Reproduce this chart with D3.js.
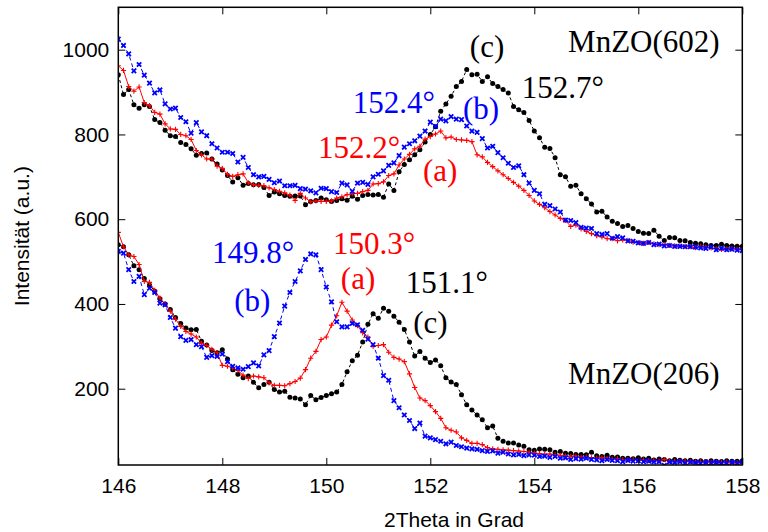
<!DOCTYPE html>
<html>
<head>
<meta charset="utf-8">
<script src="https://cdn.jsdelivr.net/npm/d3@7"></script>
<style>
  body { margin: 0; background: #fff; }
  svg text { fill: #000; }
</style>
</head>
<body>
<svg id="chart" width="768" height="532"></svg>
<script>
// Scan grid: 2Theta from 146° to 158° in 0.1° steps (121 points per scan)
const thetaStart = 146;
const thetaStep = 0.1;

const xTicks = [146, 148, 150, 152, 154, 156, 158];
const yTicks = [200, 400, 600, 800, 1000];

// MnZO(602) reflection — samples (a), (b), (c)
const mnzo602_a = [
  962, 951, 913, 902, 912, 875, 868, 852, 848, 825,
  813, 812, 800, 797, 788, 762, 752, 742, 742, 725,
  720, 706, 701, 705, 707, 686, 681, 680, 679, 674,
  670, 666, 662, 657, 644, 661, 650, 641, 643, 642,
  642, 643, 650, 653, 658, 660, 661, 665, 668, 683,
  684, 688, 703, 707, 728, 742, 753, 766, 772, 789,
  795, 801, 808, 792, 794, 788, 787, 786, 783, 752,
  747, 734, 724, 714, 705, 696, 687, 678, 668, 656,
  643, 635, 627, 618, 610, 602, 597, 583, 586, 577,
  571, 566, 561, 558, 554, 554, 549, 551, 550, 546,
  545, 543, 545, 542, 540, 540, 538, 537, 537, 536,
  535, 533, 536, 534, 532, 530, 529, 530, 530, 529,
  528
];
const mnzo602_b = [
  1025, 1010, 990, 950, 965, 940, 921, 898, 905, 872,
  860, 862, 840, 830, 803, 828, 806, 797, 778, 768,
  758, 758, 755, 735, 746, 722, 705, 700, 701, 694,
  686, 690, 679, 679, 680, 672, 671, 667, 662, 673,
  672, 665, 663, 685, 681, 666, 685, 687, 682, 700,
  706, 714, 727, 733, 750, 770, 778, 785, 796, 808,
  829, 819, 836, 832, 842, 836, 835, 820, 808, 805,
  790, 768, 772, 757, 745, 732, 722, 726, 705, 685,
  668, 660, 635, 632, 624, 617, 598, 597, 592, 581,
  579, 578, 566, 564, 566, 555, 559, 556, 549, 548,
  544, 543, 545, 540, 541, 537, 538, 536, 536, 535,
  535, 534, 532, 531, 534, 528, 531, 528, 529, 527,
  526
];
const mnzo602_c = [
  941, 894, 906, 870, 862, 870, 866, 835, 828, 810,
  797, 795, 781, 776, 766, 751, 755, 756, 742, 730,
  716, 703, 688, 698, 680, 684, 681, 682, 675, 656,
  664, 660, 656, 654, 655, 655, 634, 642, 644, 650,
  646, 642, 644, 648, 645, 654, 647, 656, 658, 657,
  658, 652, 683, 668, 712, 729, 740, 752, 764, 782,
  800, 818, 855, 872, 890, 913, 925, 953, 941, 942,
  925, 936, 920, 913, 906, 898, 866, 858, 852, 833,
  808, 792, 770, 767, 745, 705, 700, 678, 680, 660,
  648, 636, 617, 619, 605, 595, 590, 583, 585, 578,
  571, 567, 566, 574, 560, 550, 557, 556, 550, 549,
  545, 543, 542, 540, 538, 538, 541, 538, 537, 536,
  536
];

// MnZO(206) reflection — samples (a), (b), (c)
const mnzo206_a = [
  569, 535, 516, 512, 493, 453, 451, 432, 414, 400,
  383, 364, 347, 335, 329, 322, 307, 302, 293, 285,
  255, 253, 249, 243, 232, 224, 230, 228, 226, 214,
  208, 208, 207, 212, 217, 225, 245, 272, 288, 316,
  322, 350, 372, 404, 383, 362, 349, 332, 322, 300,
  302, 304, 286, 274, 270, 264, 235, 203, 178, 172,
  160, 146, 130, 108, 102, 98, 84, 78, 71, 71,
  68, 61, 58, 57, 56, 55, 54, 53, 52, 50,
  48, 47, 45, 46, 44, 43, 41, 40, 41, 38,
  39, 37, 36, 37, 35, 34, 35, 33, 32, 33,
  31, 32, 30, 31, 29, 33, 30, 29, 28, 29,
  28, 27, 28, 27, 26, 27, 26, 27, 26, 25,
  26
];
const mnzo206_b = [
  524, 520, 481, 453, 465, 422, 437, 427, 402, 398,
  368, 343, 323, 314, 316, 304, 299, 274, 278, 276,
  282, 264, 253, 249, 246, 252, 261, 254, 280, 290,
  323, 355, 395, 427, 453, 478, 505, 518, 516, 481,
  440, 405, 358, 346, 346, 354, 351, 338, 317, 304,
  272, 231, 220, 172, 155, 138, 125, 106, 119, 88,
  84, 80, 76, 70, 74, 66, 63, 60, 58, 57,
  54, 52, 53, 48, 50, 46, 44, 45, 42, 44,
  43, 40, 41, 38, 40, 36, 37, 33, 35, 34,
  36, 33, 32, 30, 33, 31, 30, 28, 31, 29,
  30, 28, 29, 27, 28, 19, 27, 26, 28, 25,
  27, 26, 24, 26, 25, 26, 24, 25, 26, 24,
  27
];
const mnzo206_c = [
  540, 535, 516, 490, 481, 460, 445, 430, 412, 400,
  387, 368, 354, 343, 339, 340, 312, 303, 290, 285,
  292, 270, 245, 234, 226, 230, 215, 202, 210, 215,
  198, 192, 194, 180, 178, 176, 162, 184, 174, 179,
  184, 188, 192, 210, 240, 266, 279, 310, 352, 377,
  366, 390, 383, 371, 357, 340, 310, 277, 288, 272,
  262, 268, 254, 226, 216, 210, 186, 162, 150, 138,
  127, 108, 112, 83, 76, 72, 72, 67, 64, 56,
  55, 58, 57, 56, 50, 52, 48, 47, 45, 45,
  44, 50, 42, 40, 43, 38, 39, 36, 36, 35,
  37, 34, 36, 32, 34, 33, 30, 33, 31, 30,
  31, 29, 30, 28, 30, 29, 28, 30, 29, 29,
  30
];

// Annotation texts, anchored in data coordinates (2Theta, intensity)
const annotations = [
  { text: "MnZO(602)", t: 154.65, v: 995, color: "#000" },
  { text: "(c)",       t: 152.76, v: 983, color: "#000" },
  { text: "152.7°",    t: 153.76, v: 887, color: "#000" },
  { text: "152.4°",    t: 150.51, v: 851, color: "#0000ff" },
  { text: "(b)",       t: 152.63, v: 836, color: "#0000ff" },
  { text: "152.2°",    t: 149.84, v: 745, color: "#ff0000" },
  { text: "(a)",       t: 151.86, v: 691, color: "#ff0000" },
  { text: "149.8°",    t: 147.80, v: 497, color: "#0000ff" },
  { text: "(b)",       t: 148.23, v: 384, color: "#0000ff" },
  { text: "150.3°",    t: 150.13, v: 519, color: "#ff0000" },
  { text: "(a)",       t: 150.28, v: 435, color: "#ff0000" },
  { text: "151.1°",    t: 151.53, v: 427, color: "#000" },
  { text: "(c)",       t: 151.67, v: 332, color: "#000" },
  { text: "MnZO(206)", t: 154.65, v: 210, color: "#000" }
];

const W = 768, H = 532;
const margin = { left: 118.3, right: 25.7, top: 7.3, bottom: 67 };
const innerW = W - margin.left - margin.right;
const innerH = H - margin.top - margin.bottom;

const sansFont = "'Liberation Sans', Arial, Helvetica, sans-serif";
const serifFont = "'Liberation Serif', 'Times New Roman', Times, serif";

const svg = d3.select("#chart");

const x = d3.scaleLinear().domain([146, 158]).range([margin.left, margin.left + innerW]);
const y = d3.scaleLinear().domain([20, 1100]).range([margin.top + innerH, margin.top]);

function toPoints(values) {
  return values.map((v, i) => ({ t: thetaStart + i * thetaStep, v }));
}

// clip region for the plotted scans
svg.append("defs").append("clipPath").attr("id", "plotClip")
  .append("rect")
  .attr("x", margin.left).attr("y", margin.top)
  .attr("width", innerW).attr("height", innerH);

const plot = svg.append("g").attr("clip-path", "url(#plotClip)");

const line = d3.line().x(d => x(d.t)).y(d => y(d.v));

const seriesStyles = {
  c: { color: "#000000", dash: "3,2.5", marker: "dot" },
  a: { color: "#ff0000", dash: null, marker: "plus" },
  b: { color: "#0000ff", dash: "4,3", marker: "cross" }
};

const scans = [
  { key: "c", values: mnzo602_c },
  { key: "c", values: mnzo206_c },
  { key: "a", values: mnzo602_a },
  { key: "a", values: mnzo206_a },
  { key: "b", values: mnzo602_b },
  { key: "b", values: mnzo206_b }
];

scans.forEach(scan => {
  const st = seriesStyles[scan.key];
  const pts = toPoints(scan.values);
  const g = plot.append("g");
  g.append("path")
    .datum(pts)
    .attr("d", line)
    .attr("fill", "none")
    .attr("stroke", st.color)
    .attr("stroke-width", 1)
    .attr("stroke-dasharray", st.dash);

  if (st.marker === "dot") {
    g.selectAll("circle").data(pts).join("circle")
      .attr("cx", d => x(d.t)).attr("cy", d => y(d.v))
      .attr("r", 2.5).attr("fill", st.color);
  } else if (st.marker === "plus") {
    const s = 2.6;
    g.selectAll("path.m").data(pts).join("path").attr("class", "m")
      .attr("d", d => {
        const cx = x(d.t), cy = y(d.v);
        return `M${cx - s},${cy}H${cx + s}M${cx},${cy - s}V${cy + s}`;
      })
      .attr("stroke", st.color).attr("stroke-width", 1.1).attr("fill", "none");
  } else {
    const s = 2.2;
    g.selectAll("path.m").data(pts).join("path").attr("class", "m")
      .attr("d", d => {
        const cx = x(d.t), cy = y(d.v);
        return `M${cx - s},${cy - s}L${cx + s},${cy + s}M${cx - s},${cy + s}L${cx + s},${cy - s}`;
      })
      .attr("stroke", st.color).attr("stroke-width", 1.8).attr("fill", "none");
  }
});

// axes with inward ticks on all four sides
const tickLen = 7;
const bottomAxis = d3.axisBottom(x).tickValues(xTicks).tickFormat(d3.format("d"))
  .tickSizeInner(-tickLen).tickSizeOuter(0).tickPadding(13);
const topAxis = d3.axisTop(x).tickValues(xTicks).tickFormat("")
  .tickSizeInner(-tickLen).tickSizeOuter(0);
const leftAxis = d3.axisLeft(y).tickValues(yTicks).tickFormat(d3.format("d"))
  .tickSizeInner(-tickLen).tickSizeOuter(0).tickPadding(9);
const rightAxis = d3.axisRight(y).tickValues(yTicks).tickFormat("")
  .tickSizeInner(-tickLen).tickSizeOuter(0);

function styleAxis(g) {
  g.select(".domain").remove();
  g.selectAll(".tick line").attr("stroke", "#000").attr("stroke-width", 1);
  g.selectAll(".tick text").attr("font-family", sansFont).attr("font-size", 21).attr("fill", "#000");
}

svg.append("g").attr("transform", `translate(0,${margin.top + innerH})`).call(bottomAxis).call(styleAxis);
svg.append("g").attr("transform", `translate(0,${margin.top})`).call(topAxis).call(styleAxis);
svg.append("g").attr("transform", `translate(${margin.left},0)`).call(leftAxis).call(styleAxis);
svg.append("g").attr("transform", `translate(${margin.left + innerW},0)`).call(rightAxis).call(styleAxis);

// frame
svg.append("rect")
  .attr("x", margin.left).attr("y", margin.top)
  .attr("width", innerW).attr("height", innerH)
  .attr("fill", "none").attr("stroke", "#000").attr("stroke-width", 1.5);

// axis titles
svg.append("text")
  .attr("x", 454).attr("y", 527)
  .attr("text-anchor", "middle")
  .attr("font-family", sansFont).attr("font-size", 21)
  .text("2Theta in Grad");

svg.append("text")
  .attr("transform", `translate(28.5,${margin.top + innerH / 2}) rotate(-90)`)
  .attr("text-anchor", "middle")
  .attr("font-family", sansFont).attr("font-size", 21)
  .text("Intensität (a.u.)");

// peak annotations
svg.append("g").selectAll("text").data(annotations).join("text")
  .attr("x", d => x(d.t)).attr("y", d => y(d.v))
  .attr("font-family", serifFont).attr("font-size", 31)
  .style("fill", d => d.color)
  .text(d => d.text);
</script>
</body>
</html>
